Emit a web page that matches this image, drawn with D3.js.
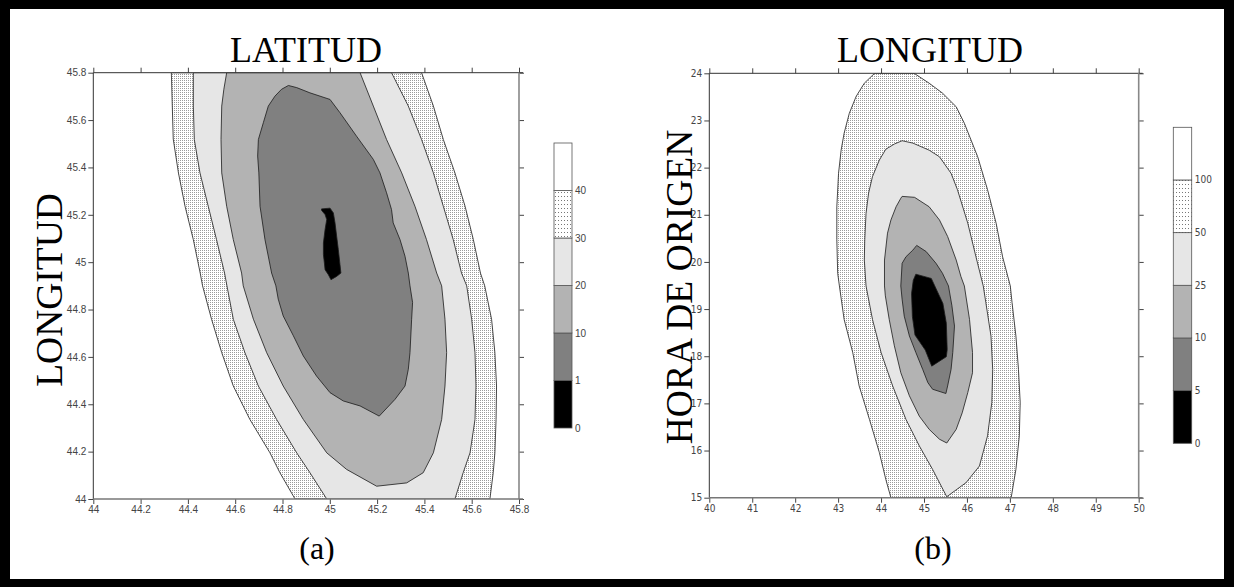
<!DOCTYPE html>
<html>
<head>
<meta charset="utf-8">
<script src="https://cdn.jsdelivr.net/npm/d3@7"></script>
<style>
  html, body { margin: 0; padding: 0; background: #000; }
  svg { display: block; }
</style>
</head>
<body>
<div id="root"></div>
<script>
// ---- panel (a): latitude / longitude ----
const latTicks = [44, 44.2, 44.4, 44.6, 44.8, 45, 45.2, 45.4, 45.6, 45.8];
const lonTicksA = [44, 44.2, 44.4, 44.6, 44.8, 45, 45.2, 45.4, 45.6, 45.8];
const levelsA = ["0", "1", "10", "20", "30", "40"];

// contour outlines, [latitude, longitude]
const latLon40 = [
  [44.33, 45.8], [44.338, 45.52], [44.36, 45.377], [44.388, 45.236], [44.423, 45.095],
  [44.452, 44.954], [44.462, 44.9], [44.50, 44.759], [44.543, 44.618], [44.592, 44.477],
  [44.662, 44.336], [44.747, 44.195], [44.789, 44.111], [44.853, 44.0],
  [45.677, 44.0], [45.691, 44.111], [45.698, 44.195], [45.703, 44.336], [45.705, 44.477],
  [45.698, 44.618], [45.684, 44.759], [45.655, 44.9], [45.637, 44.954], [45.607, 45.095],
  [45.572, 45.236], [45.529, 45.377], [45.48, 45.518], [45.438, 45.659], [45.388, 45.8]
];
const latLon30 = [
  [44.423, 45.8], [44.423, 45.659], [44.427, 45.518], [44.451, 45.377], [44.486, 45.236],
  [44.521, 45.095], [44.555, 44.954], [44.565, 44.9], [44.592, 44.759], [44.641, 44.618],
  [44.698, 44.477], [44.775, 44.336], [44.86, 44.195], [44.916, 44.111], [44.987, 44.0],
  [45.529, 44.0], [45.564, 44.111], [45.593, 44.195], [45.614, 44.336], [45.618, 44.477],
  [45.614, 44.618], [45.60, 44.759], [45.579, 44.9], [45.557, 44.954], [45.522, 45.095],
  [45.48, 45.236], [45.438, 45.377], [45.388, 45.518], [45.332, 45.659], [45.261, 45.8]
];
const latLon20 = [
  [44.564, 45.8], [44.552, 45.73], [44.543, 45.659], [44.54, 45.518], [44.543, 45.377],
  [44.564, 45.236], [44.592, 45.095], [44.627, 44.954], [44.634, 44.9], [44.677, 44.759],
  [44.733, 44.618], [44.803, 44.477], [44.888, 44.336], [44.987, 44.195], [45.071, 44.125],
  [45.198, 44.054], [45.325, 44.068], [45.395, 44.111], [45.438, 44.195], [45.473, 44.336],
  [45.487, 44.477], [45.494, 44.618], [45.487, 44.759], [45.473, 44.9], [45.452, 44.954],
  [45.409, 45.095], [45.36, 45.236], [45.304, 45.377], [45.24, 45.518], [45.184, 45.659],
  [45.128, 45.8]
];
const latLon10 = [
  [44.825, 45.746], [44.86, 45.737], [44.916, 45.715], [45.001, 45.687], [45.043, 45.631],
  [45.113, 45.532], [45.184, 45.434], [45.212, 45.377], [45.24, 45.293], [45.261, 45.222],
  [45.268, 45.166], [45.297, 45.095], [45.318, 45.025], [45.332, 44.954], [45.339, 44.9],
  [45.35, 44.83], [45.346, 44.759], [45.339, 44.618], [45.332, 44.548], [45.318, 44.477],
  [45.276, 44.421], [45.209, 44.35], [45.128, 44.393], [45.057, 44.414], [45.001, 44.449],
  [44.944, 44.519], [44.888, 44.604], [44.846, 44.689], [44.803, 44.773], [44.782, 44.844],
  [44.772, 44.9], [44.754, 44.954], [44.726, 45.095], [44.705, 45.236], [44.70, 45.377],
  [44.695, 45.448], [44.698, 45.518], [44.719, 45.589], [44.74, 45.659], [44.768, 45.701],
  [44.796, 45.73]
];
const latLon1 = [
  [44.965, 45.225], [45.001, 45.228], [45.015, 45.208], [45.022, 45.166], [45.029, 45.109],
  [45.036, 45.053], [45.043, 44.99], [45.047, 44.954], [45.029, 44.94], [45.005, 44.926],
  [44.994, 44.947], [44.98, 44.968], [44.977, 44.997], [44.973, 45.032], [44.973, 45.081],
  [44.98, 45.138], [44.987, 45.18], [44.98, 45.201], [44.965, 45.219]
];

// ---- panel (b): longitude / origin time ----
const lonTicksB = [40, 41, 42, 43, 44, 45, 46, 47, 48, 49, 50];
const hourTicks = [15, 16, 17, 18, 19, 20, 21, 22, 23, 24];
const levelsB = ["0", "5", "10", "25", "50", "100"];

const lonHour100 = [
  [43.85, 24.0], [43.61, 23.79], [43.42, 23.51], [43.26, 23.15], [43.14, 22.73],
  [43.07, 22.37], [43.01, 21.88], [42.97, 21.17], [42.97, 20.47], [42.99, 19.76],
  [43.03, 19.49], [43.14, 18.78], [43.34, 18.08], [43.49, 17.37], [43.73, 16.66],
  [43.96, 15.96], [44.11, 15.39], [44.23, 15.0],
  [47.03, 15.0], [47.14, 15.6], [47.22, 16.31], [47.24, 17.02], [47.20, 17.72],
  [47.14, 18.43], [47.05, 19.14], [47.01, 19.49], [46.83, 20.11], [46.68, 20.82],
  [46.48, 21.53], [46.25, 22.23], [45.94, 22.94], [45.75, 23.29], [45.43, 23.58],
  [45.12, 23.79], [44.77, 24.0]
];
const lonHour50 = [
  [44.49, 22.57], [44.31, 22.50], [44.11, 22.39], [43.96, 22.16], [43.80, 21.81],
  [43.71, 21.46], [43.65, 21.03], [43.62, 20.47], [43.61, 20.04], [43.65, 19.49],
  [43.80, 18.78], [44.00, 18.08], [44.27, 17.37], [44.58, 16.66], [44.89, 16.10],
  [45.20, 15.60], [45.53, 15.02], [45.98, 15.32], [46.29, 15.67], [46.48, 16.31],
  [46.58, 17.02], [46.60, 17.72], [46.56, 18.43], [46.44, 19.14], [46.38, 19.49],
  [46.21, 20.11], [46.02, 20.82], [45.78, 21.53], [45.63, 21.88], [45.36, 22.23],
  [45.12, 22.37], [44.74, 22.52]
];
const lonHour25 = [
  [44.49, 21.39], [44.78, 21.37], [45.12, 21.17], [45.36, 20.89], [45.55, 20.54],
  [45.75, 20.04], [45.86, 19.69], [45.94, 19.49], [46.06, 18.78], [46.13, 18.08],
  [46.13, 17.65], [46.02, 17.23], [45.89, 16.80], [45.75, 16.45], [45.53, 16.16],
  [45.36, 16.24], [45.12, 16.45], [44.89, 16.73], [44.66, 17.16], [44.46, 17.65],
  [44.31, 18.22], [44.19, 18.78], [44.10, 19.28], [44.08, 19.49], [44.08, 20.04],
  [44.15, 20.61], [44.23, 20.89], [44.35, 21.17], [44.46, 21.35]
];
const lonHour10 = [
  [44.83, 20.35], [45.05, 20.22], [45.28, 19.97], [45.43, 19.76], [45.57, 19.49],
  [45.65, 19.07], [45.71, 18.64], [45.67, 18.08], [45.63, 17.72], [45.55, 17.37],
  [45.51, 17.21], [45.20, 17.30], [45.09, 17.44], [44.97, 17.72], [44.81, 18.08],
  [44.66, 18.43], [44.54, 18.85], [44.49, 19.21], [44.46, 19.49], [44.49, 19.97],
  [44.58, 20.11], [44.74, 20.25]
];
const lonHour5 = [
  [44.81, 19.74], [45.17, 19.65], [45.44, 19.12], [45.52, 18.70], [45.54, 18.14],
  [45.52, 17.99], [45.18, 17.79], [45.03, 18.13], [44.79, 18.45], [44.73, 18.84],
  [44.71, 19.33], [44.75, 19.61]
];

// ---- drawing ----
const W = 1234, H = 587;
const FILLS = ["#000000", "#808080", "#b3b3b3", "#e6e6e6", "url(#dots)", "#ffffff"];
const BAR_FILLS = ["#000000", "#808080", "#b3b3b3", "#e6e6e6", "url(#dotsBar)", "#ffffff"];
const SANS = "'Liberation Sans', Arial, sans-serif";
const NARROW = "'DejaVu Sans Condensed', 'Liberation Sans Narrow', 'Liberation Sans', sans-serif";
const SERIF = "'Liberation Serif', 'Times New Roman', serif";

const svg = d3.select("#root").append("svg")
  .attr("width", W)
  .attr("height", H);

svg.append("rect").attr("width", W).attr("height", H).attr("fill", "#000");
svg.append("rect")
  .attr("x", 10).attr("y", 9)
  .attr("width", 1214).attr("height", 570)
  .attr("fill", "#fff");

const defs = svg.append("defs");

function dotPattern(id, w, h, color) {
  const p = defs.append("pattern")
    .attr("id", id)
    .attr("patternUnits", "userSpaceOnUse")
    .attr("width", w)
    .attr("height", h);
  p.append("rect").attr("width", w).attr("height", h).attr("fill", "#fff");
  p.append("rect").attr("width", 1).attr("height", 1).attr("fill", color);
}
dotPattern("dots", 2, 2, "#9a9a9a");
dotPattern("dotsBar", 3, 4, "#777");

function styleAxis(g, font, size) {
  g.select(".domain").remove();
  g.selectAll(".tick line").attr("stroke", "#444");
  g.selectAll(".tick text")
    .attr("fill", "#444")
    .style("font-family", font)
    .style("font-size", size + "px");
}

function panel(cfg) {
  const x = d3.scaleLinear().domain(cfg.xDomain).range([cfg.left, cfg.right]);
  const y = d3.scaleLinear().domain(cfg.yDomain).range([cfg.bottom, cfg.top]);
  const g = svg.append("g").attr("id", cfg.id);

  defs.append("clipPath").attr("id", cfg.id + "-clip")
    .append("rect")
    .attr("x", cfg.left).attr("y", cfg.top)
    .attr("width", cfg.right - cfg.left)
    .attr("height", cfg.bottom - cfg.top);

  const body = g.append("g").attr("clip-path", `url(#${cfg.id}-clip)`);
  body.append("rect")
    .attr("x", cfg.left).attr("y", cfg.top)
    .attr("width", cfg.right - cfg.left)
    .attr("height", cfg.bottom - cfg.top)
    .attr("fill", "#fff");

  const line = d3.line()
    .x(d => x(d[0]))
    .y(d => y(d[1]))
    .curve(d3.curveLinearClosed);

  body.selectAll("path.level")
    .data(cfg.contours)
    .enter()
    .append("path")
    .attr("class", "level")
    .attr("d", d => line(d))
    .attr("fill", (_, i) => FILLS[4 - i])
    .attr("stroke", "#1a1a1a")
    .attr("stroke-width", 0.8)
    .attr("stroke-linejoin", "round");

  const fmt = d3.format("");

  g.append("g")
    .attr("transform", `translate(${cfg.left},0)`)
    .call(d3.axisLeft(y).tickValues(cfg.yTicks).tickFormat(fmt).tickSize(5).tickPadding(2))
    .call(s => styleAxis(s, cfg.font, cfg.fontSize));

  g.append("g")
    .attr("transform", `translate(0,${cfg.bottom})`)
    .call(d3.axisBottom(x).tickValues(cfg.xTicks).tickFormat(fmt).tickSize(5).tickPadding(2))
    .call(s => styleAxis(s, cfg.font, cfg.fontSize));

  g.append("g")
    .attr("transform", `translate(0,${cfg.top})`)
    .call(d3.axisTop(x).tickValues(cfg.xTicks).tickFormat("").tickSize(5))
    .call(s => styleAxis(s, cfg.font, cfg.fontSize));

  g.append("g")
    .attr("transform", `translate(${cfg.right},0)`)
    .call(d3.axisRight(y).tickValues(cfg.yTicks).tickFormat("").tickSize(5))
    .call(s => styleAxis(s, cfg.font, cfg.fontSize));

  // frame: dark left/top, grey heavier right/bottom
  g.append("line")
    .attr("x1", cfg.left).attr("x2", cfg.left)
    .attr("y1", cfg.top).attr("y2", cfg.bottom)
    .attr("stroke", "#333").attr("stroke-width", 1);
  g.append("line")
    .attr("x1", cfg.left).attr("x2", cfg.right + 4)
    .attr("y1", cfg.top).attr("y2", cfg.top)
    .attr("stroke", "#333").attr("stroke-width", 1);
  g.append("line")
    .attr("x1", cfg.right).attr("x2", cfg.right)
    .attr("y1", cfg.top).attr("y2", cfg.bottom)
    .attr("stroke", "#888").attr("stroke-width", 1.6);
  g.append("line")
    .attr("x1", cfg.left).attr("x2", cfg.right + 4)
    .attr("y1", cfg.bottom).attr("y2", cfg.bottom)
    .attr("stroke", "#777").attr("stroke-width", 1.4);

  // colour bar
  const bar = cfg.bar;
  const by = d3.scaleLinear().domain([0, 6]).range([bar.bottom, bar.top]);
  const bg = g.append("g").attr("class", "colorbar");
  bg.selectAll("rect")
    .data(BAR_FILLS)
    .enter()
    .append("rect")
    .attr("x", bar.left)
    .attr("y", (_, i) => by(i + 1))
    .attr("width", bar.width)
    .attr("height", (_, i) => by(i) - by(i + 1))
    .attr("fill", d => d)
    .attr("stroke", "#555")
    .attr("stroke-width", 0.8);
  bg.selectAll("text")
    .data(cfg.levels)
    .enter()
    .append("text")
    .attr("x", bar.left + bar.width + 3)
    .attr("y", (_, i) => by(i))
    .attr("dominant-baseline", "central")
    .attr("fill", "#444")
    .style("font-family", cfg.font)
    .style("font-size", cfg.fontSize + "px")
    .text(d => d);

  // titles
  g.append("text")
    .attr("x", cfg.titleX)
    .attr("y", 62)
    .attr("text-anchor", "middle")
    .style("font-family", SERIF)
    .style("font-size", "36px")
    .text(cfg.title);

  g.append("text")
    .attr("transform", `translate(${cfg.yLabelX},${cfg.yLabelY}) rotate(-90)`)
    .attr("text-anchor", "middle")
    .style("font-family", SERIF)
    .style("font-size", "37.5px")
    .text(cfg.yLabel);

  g.append("text")
    .attr("x", cfg.tagX)
    .attr("y", 559)
    .attr("text-anchor", "middle")
    .style("font-family", SERIF)
    .style("font-size", "32px")
    .text(cfg.tag);
}

panel({
  id: "panel-a",
  xDomain: [44, 45.8], yDomain: [44, 45.8],
  left: 93.3, right: 519, top: 72.7, bottom: 499,
  xTicks: latTicks, yTicks: lonTicksA,
  contours: [latLon40, latLon30, latLon20, latLon10, latLon1],
  levels: levelsA,
  bar: { left: 554, width: 18, top: 143, bottom: 428 },
  font: SANS, fontSize: 10,
  title: "LATITUD", titleX: 306,
  yLabel: "LONGITUD", yLabelX: 62, yLabelY: 290,
  tag: "(a)", tagX: 317
});

panel({
  id: "panel-b",
  xDomain: [40, 50], yDomain: [15, 24],
  left: 709.3, right: 1138.7, top: 73.3, bottom: 497.7,
  xTicks: lonTicksB, yTicks: hourTicks,
  contours: [lonHour100, lonHour50, lonHour25, lonHour10, lonHour5],
  levels: levelsB,
  bar: { left: 1173.3, width: 18.4, top: 127.3, bottom: 443.3 },
  font: NARROW, fontSize: 10,
  title: "LONGITUD", titleX: 930,
  yLabel: "HORA DE ORIGEN", yLabelX: 692, yLabelY: 287,
  tag: "(b)", tagX: 933
});
</script>
</body>
</html>
